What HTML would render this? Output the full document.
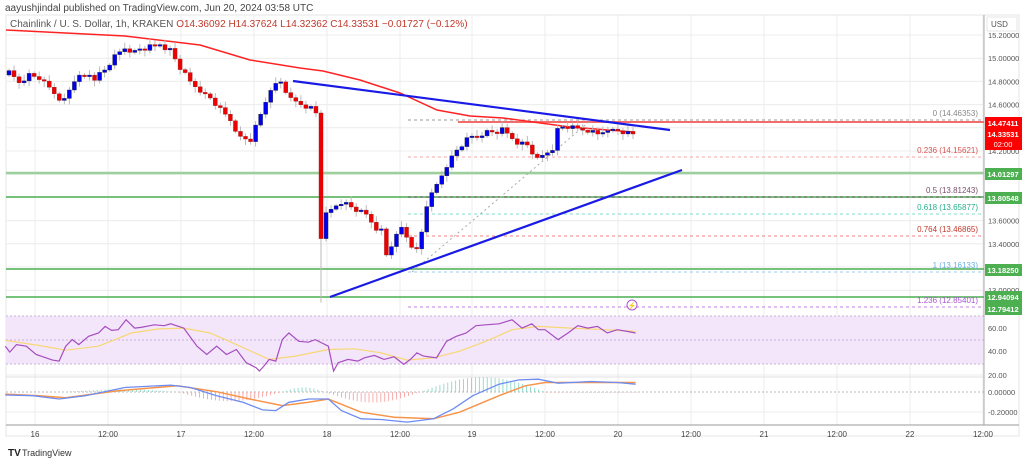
<!DOCTYPE html>
<html><head><meta charset="utf-8">
<style>
html,body{margin:0;padding:0;background:#fff;width:1024px;height:461px;overflow:hidden;font-family:"Liberation Sans",sans-serif}
svg{display:block}
text{font-family:"Liberation Sans",sans-serif}
</style></head>
<body>
<svg id="s" width="1024" height="461" viewBox="0 0 1024 461" xmlns="http://www.w3.org/2000/svg">
<rect width="1024" height="461" fill="#fff"/>
<rect x="6" y="15" width="1013" height="421" fill="none" stroke="#e6e6e6"/>
<g id="grid" stroke="#ececec" stroke-width="1"></g>
<!-- RSI band -->
<rect x="6" y="316" width="978" height="48" fill="#f3e6fb"/>
<line x1="6" y1="316" x2="984" y2="316" stroke="#c9b3d9" stroke-dasharray="2,2"/>
<line x1="6" y1="340" x2="984" y2="340" stroke="#c9b3d9" stroke-dasharray="2,2"/>
<line x1="6" y1="364" x2="984" y2="364" stroke="#c9b3d9" stroke-dasharray="2,2"/>
<line x1="6" y1="377" x2="984" y2="377" stroke="#e0e0e0"/>
<line x1="6" y1="392" x2="984" y2="392" stroke="#bbb" stroke-dasharray="2,2"/>
<line x1="6" y1="425" x2="1019" y2="425" stroke="#999"/>
<line x1="984" y1="15" x2="984" y2="425" stroke="#aaa"/>
<g id="g"></g>
<text x="5" y="11" font-size="10" fill="#444">aayushjindal published on TradingView.com, Jun 20, 2024 03:58 UTC</text>
<text x="10" y="27" font-size="10" fill="#555">Chainlink / U. S. Dollar, 1h, KRAKEN <tspan fill="#c0392b">O14.36092  H14.37624  L14.32362  C14.33531  −0.01727 (−0.12%)</tspan></text>
<rect x="987" y="17" width="30" height="14" fill="#fff" stroke="#e6e6e6"/>
<text x="991" y="27" font-size="8" fill="#555">USD</text>
<text x="8" y="456" font-size="10" font-weight="bold" fill="#222">TV</text>
<text x="22" y="456" font-size="9" fill="#333">TradingView</text>
</svg>
<script>
const NS="http://www.w3.org/2000/svg",g=document.getElementById('g'),gr=document.getElementById('grid');
function el(t,a,p){const e=document.createElementNS(NS,t);for(const k in a)e.setAttribute(k,a[k]);(p||g).appendChild(e);return e;}
function tx(x,y,s,fs,fill,anc,w){const e=el('text',{x,y,'font-size':fs,fill,'text-anchor':anc||'start'});if(w)e.setAttribute('font-weight',w);e.textContent=s;return e;}
const Y=p=>35+(15.2-p)*116;
// grid
[35,108,181,254,327,400,472,545,618,691,764,837,910,983].forEach(x=>el('line',{x1:x,y1:15,x2:x,y2:425},gr));
for(let i=0;i<12;i++){const y=35+i*23.2;el('line',{x1:6,y1:y,x2:984,y2:y},gr);}
[328,351,375,412].forEach(y=>el('line',{x1:6,y1:y,x2:984,y2:y},gr));
// date labels
[["16",35],["12:00",108],["17",181],["12:00",254],["18",327],["12:00",400],["19",472],["12:00",545],["20",618],["12:00",691],["21",764],["12:00",837],["22",910],["12:00",983]].forEach(d=>tx(d[1],437,d[0],8,"#444","middle"));
// price labels
[["15.20000",15.2],["15.00000",15.0],["14.80000",14.8],["14.60000",14.6],["14.40000",14.4],["14.20000",14.2],["13.60000",13.6],["13.40000",13.4],["13.00000",13.0]].forEach(p=>tx(988,Y(p[1])+3,p[0],7.5,"#555"));
tx(988,331,"60.00",7.5,"#555");tx(988,354,"40.00",7.5,"#555");tx(988,378,"20.00",7.5,"#555");
tx(988,395,"0.00000",7.5,"#555");tx(988,415,"-0.20000",7.5,"#555");
// horizontal lines
[[173,"#9ccf9c",2.5],[197,"#4caf50",1.5],[269,"#4caf50",1.5],[297,"#4caf50",1.5]].forEach(l=>el('line',{x1:6,y1:l[0],x2:984,y2:l[0],stroke:l[1],'stroke-width':l[2]}));
el('line',{x1:458,y1:122,x2:984,y2:122,stroke:"#f36b6b",'stroke-width':2});
// fib
const fib=[[120,"#999","0 (14.46353)","#888"],[157,"#f4a6a6","0.236 (14.15621)","#d9534f"],[197,"#555","0.5 (13.81243)","#7a4f6a"],[214,"#7fdcc8","0.618 (13.65877)","#26b08a"],[236,"#f08080","0.764 (13.46865)","#c0392b"],[272,"#9ecbee","1 (13.16133)","#6ab0e0"],[307,"#c77dea","1.236 (12.85401)","#a855d0"]];
fib.forEach(f=>{el('line',{x1:408,y1:f[0],x2:984,y2:f[0],stroke:f[1],'stroke-dasharray':'3,3'});tx(978,f[0]-4,f[2],8,f[3],"end");});
el('line',{x1:412,y1:272,x2:590,y2:121,stroke:"#aaa",'stroke-dasharray':'2,3'});
// MA
el('polyline',{points:"6,30 125,36 200,45 250,60 300,68 323,71 360,80 400,93 437,110 470,116 503,118 570,127 633,132",fill:"none",stroke:"#f22",'stroke-width':1.5});
// candles
const K=[[0,73],[2,82],[4,75],[6,78],[8,88],[10,98],[11,100],[13,80],[15,75],[17,78],[19,70],[21,57],[23,48],[25,52],[27,48],[30,45],[32,50],[34,68],[36,82],[38,90],[40,98],[42,110],[44,120],[46,138],[48,140],[50,115],[52,88],[54,82],[56,100],[58,104],[60,108],[61,113],[62,237],[63,215],[65,205],[67,204],[69,210],[71,215],[73,228],[74,232],[75,255],[76,245],[78,228],[80,245],[81,250],[82,232],[83,205],[85,185],[87,165],[89,150],[91,140],[93,135],[95,132],[97,132],[98,130],[100,138],[101,142],[103,145],[105,160],[106,156],[108,148],[109,130],[111,127],[113,129],[115,130],[117,134],[119,133],[121,130],[123,133],[124,134]];
const cl=[];for(let k=0;k<K.length-1;k++){const[a,ya]=K[k],[b,yb]=K[k+1];for(let i=a;i<b;i++)cl[i]=ya+(yb-ya)*(i-a)/(b-a);}cl[124]=134;
let prev=72;
for(let i=0;i<=124;i++){const x=9+i*(624/124);let o=prev,c=cl[i]+((i*37)%7-3)*0.8;if(i==0)o=75;
 if(Math.abs(c-o)<1.5)c=o+(i%2?1.5:-1.5);
 const top=Math.min(o,c),bot=Math.max(o,c),up=c<o;
 const wt=top-2-((i*13)%5),wb=bot+2+((i*7)%5)+(i==62?58:0);
 el('line',{x1:x,y1:wt,x2:x,y2:wb,stroke:"#bbb"});
 el('rect',{x:x-2,y:top,width:4,height:bot-top,fill:up?"#0000ee":"#ee0000",stroke:up?"#223":"#922",'stroke-width':0.4});
 prev=c;}
// trendlines
el('line',{x1:293,y1:81,x2:670,y2:130,stroke:"#1a1ae6",'stroke-width':2.2});
el('line',{x1:330,y1:297,x2:682,y2:170,stroke:"#1a1ae6",'stroke-width':2.2});
// badges
function badge(y,t,c,h){el('rect',{x:985,y:y-6,width:37,height:h||12,fill:c});tx(1003,y+3,t,7.5,"#fff","middle","bold");}
badge(123,"14.47411","#f00");
el('rect',{x:985,y:129,width:37,height:21,fill:"#f00"});tx(1003,137,"14.33531",7.5,"#fff","middle","bold");tx(1003,147,"02:00",7.5,"#fff","middle");
badge(174,"14.01297","#4caf50");badge(198,"13.80548","#4caf50");badge(270,"13.18250","#4caf50");badge(297,"12.94094","#4caf50");badge(309,"12.79412","#4caf50");
// lightning
el('circle',{cx:632,cy:305,r:5,fill:"#fff",stroke:"#a855d0"});tx(632,308,"⚡",7,"#a855d0","middle");
// panels
const cv=(a)=>a.map(p=>(p[0]/1.523).toFixed(1)+","+(300+p[1]/3.03).toFixed(1)).join(" ");
// histogram
for(let zx=100;zx<=970;zx+=6){let h=0;
 if(zx<270)h=-(Math.sin((zx-100)/170*Math.PI)*8);else if(zx<430)h=Math.sin((zx-270)/160*Math.PI)*28;else if(zx<495)h=-(Math.sin((zx-430)/65*Math.PI)*14);else if(zx<640)h=Math.sin((zx-495)/145*Math.PI)*32;else if(zx<830)h=-(Math.sin((zx-640)/190*Math.PI)*45);else h=2;
 const x=zx/1.523,y0=392,y1=392+h/3.03;el('line',{x1:x,y1:y0,x2:x,y2:y1,stroke:h<0?"#7fd3c0":"#f59a9a",'stroke-width':0.8});}
el('polyline',{points:cv([[8,122],[60,138],[100,152],[150,140],[200,100],[240,88],[280,85],[320,100],[360,135],[410,180],[450,170],[500,150],[540,148],[580,160],[620,182],[660,175],[700,155],[740,125],[780,90],[820,80],[870,85],[920,90],[968,95]]),fill:"none",stroke:"#f7d774",'stroke-width':1.2});
el('polyline',{points:cv([[8,140],[15,158],[25,135],[40,140],[55,165],[80,182],[90,185],[100,140],[110,120],[120,135],[135,110],[150,100],[160,80],[170,92],[180,90],[192,60],[205,85],[215,83],[235,75],[250,78],[260,72],[280,85],[300,140],[315,165],[330,140],[345,165],[360,150],[375,190],[390,205],[395,215],[402,200],[410,180],[420,185],[430,120],[440,100],[455,125],[470,128],[480,120],[490,130],[500,140],[508,215],[515,190],[530,180],[545,185],[555,175],[570,168],[585,180],[600,172],[615,195],[625,180],[635,160],[645,170],[665,175],[680,125],[695,110],[710,100],[725,78],[740,75],[760,72],[780,60],[795,85],[810,72],[820,90],[830,90],[850,120],[865,100],[880,78],[895,85],[910,80],[925,100],[940,90],[955,95],[968,100]]),fill:"none",stroke:"#a64dbf",'stroke-width':1.2});
el('polyline',{points:cv([[8,285],[60,290],[100,296],[180,275],[270,260],[330,278],[380,300],[430,320],[470,310],[500,300],[550,340],[600,355],[660,360],[700,340],[760,290],[800,260],[830,250],[880,250],[968,250]]),fill:"none",stroke:"#f7944a",'stroke-width':1.5});
el('polyline',{points:cv([[8,288],[50,290],[90,300],[130,290],[190,265],[260,258],[290,265],[330,290],[370,310],[400,333],[420,335],[440,310],[470,300],[500,300],[520,335],[550,360],[580,362],[620,370],[660,360],[690,330],[720,290],[760,255],[790,242],[820,240],[850,252],[900,247],[940,250],[968,255]]),fill:"none",stroke:"#6d8cf2",'stroke-width':1.3});
</script>
</body></html>
